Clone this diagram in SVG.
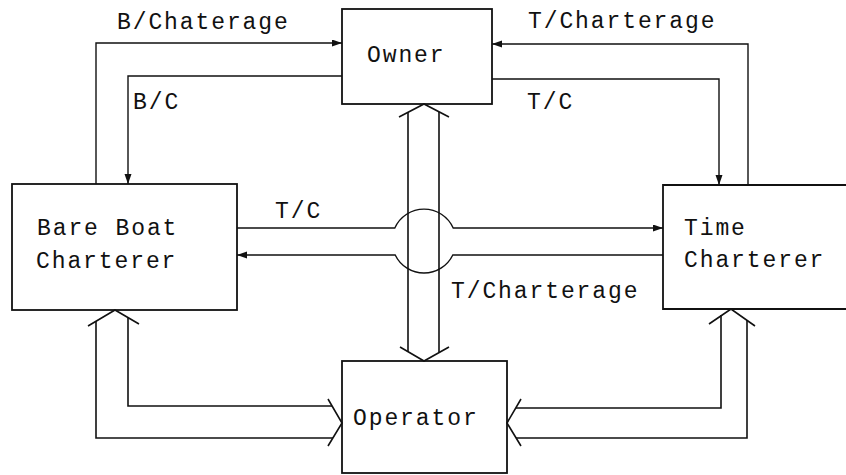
<svg xmlns="http://www.w3.org/2000/svg" width="846" height="475" viewBox="0 0 846 475">
<style>
.box{fill:none;stroke:#111;stroke-width:1.8}
.ln{fill:none;stroke:#111;stroke-width:1.4}
.hd{fill:none;stroke:#111;stroke-width:1.6}
.arr{marker-end:url(#ah)}
text{font-family:"Liberation Mono","DejaVu Sans Mono",monospace;font-size:23px;letter-spacing:1.9px;fill:#111}
</style>
<defs>
<marker id="ah" markerUnits="userSpaceOnUse" markerWidth="11" markerHeight="8" refX="10" refY="3.5" orient="auto">
<path d="M0,0 L10,3.5 L0,7 z" fill="#111"/>
</marker>
</defs>
<rect width="846" height="475" fill="#fff"/>
<g id="owner">
<rect class="box" x="342" y="9" width="150" height="95"/>
<text x="367" y="62">Owner</text>
</g>
<g id="bareboat">
<rect class="box" x="12" y="184" width="225" height="126"/>
<text x="37" y="235">Bare Boat</text>
<text x="36" y="268">Charterer</text>
</g>
<g id="timecharterer">
<path class="box" d="M846,185 H663 V309 H846"/>
<text x="684" y="235">Time</text>
<text x="684" y="267">Charterer</text>
</g>
<g id="operator">
<rect class="box" x="342" y="361" width="165" height="112"/>
<text x="353" y="425">Operator</text>
</g>
<g id="connectors">
<path class="ln arr" d="M96,184 V43 H342"/>
<path class="ln arr" d="M342,76 H128 V184"/>
<path class="ln arr" d="M748,185 V44 H492"/>
<path class="ln arr" d="M492,79 H719 V185"/>
<path class="ln arr" d="M237,228 H394.8 A32,32 0 0 1 453.2,228 H663"/>
<path class="ln arr" d="M663,255 H452.8 A32,32 0 0 1 395.2,255 H237"/>
<path class="hd" d="M408,112 V352 M439,112 V352"/>
<path class="hd" d="M399,117 L424,104 L449,117"/>
<path class="hd" d="M400,347 L424,361 L449,347"/>
<path class="hd" d="M88,326 L115,310 L139,324"/>
<path class="hd" d="M96,321 V438 H333 M128,318 V406 H332"/>
<path class="hd" d="M328,399 L342,423 L328,446"/>
<path class="hd" d="M709,324 L731,309 L755,326"/>
<path class="hd" d="M721,315 V408 H516 M747,320 V438 H516"/>
<path class="hd" d="M521,399 L507,423 L521,446"/>
</g>
<g id="labels">
<text x="117" y="29">B/Chaterage</text>
<text x="133" y="109">B/C</text>
<text x="275" y="218">T/C</text>
<text x="528" y="28">T/Charterage</text>
<text x="527" y="109">T/C</text>
<text x="451" y="298">T/Charterage</text>
</g>
</svg>
